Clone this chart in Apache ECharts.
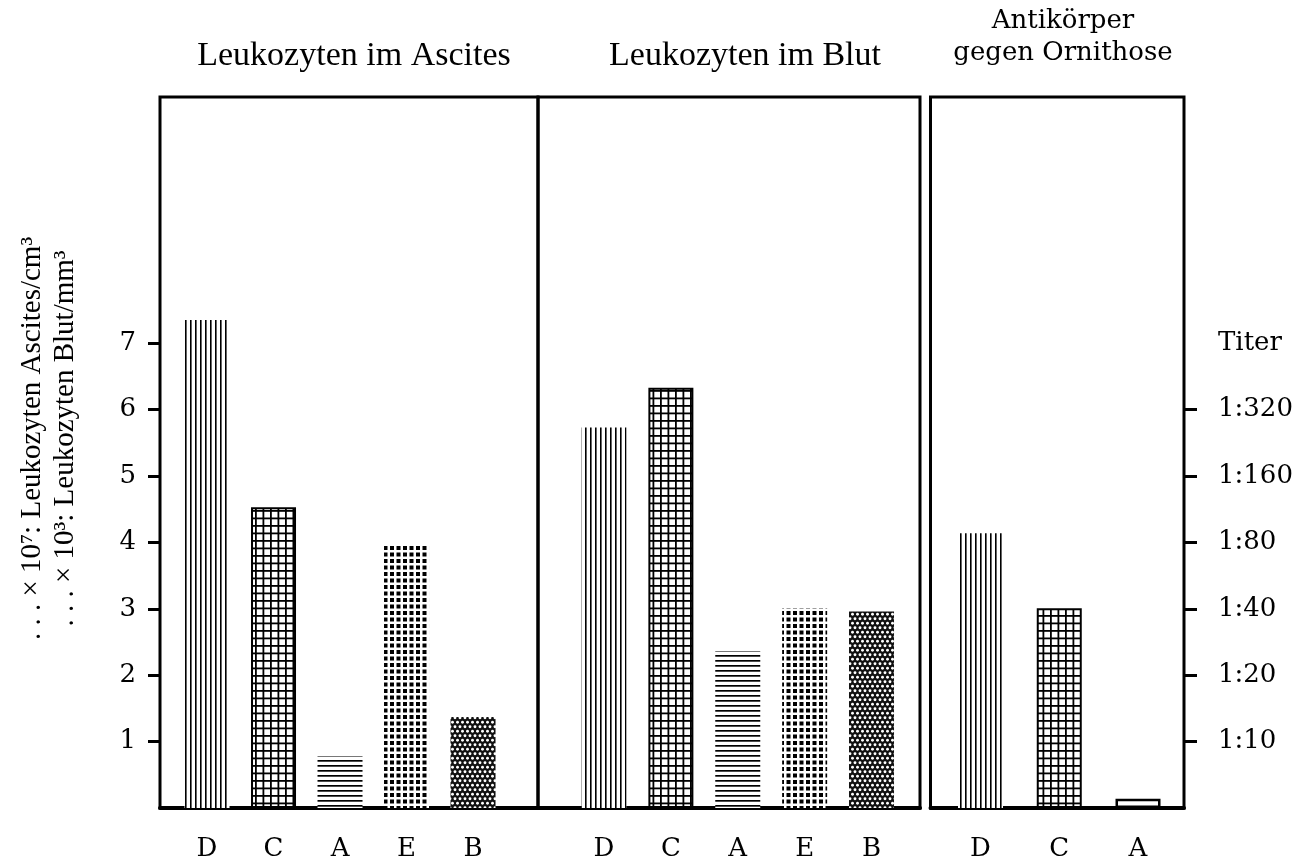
<!DOCTYPE html>
<html>
<head>
<meta charset="utf-8">
<script src="https://cdn.jsdelivr.net/npm/echarts@6/dist/echarts.min.js"></script>
<style>
html,body{margin:0;padding:0;background:#fff;}
#chart{width:1306px;height:868px;}
</style>
</head>
<body>
<div id="chart"></div>
<script>
// ---- data ----
const categoriesMain = ['D', 'C', 'A', 'E', 'B'];
const categoriesTiter = ['D', 'C', 'A'];
const ascitesValues = [7.35, 4.53, 0.78, 3.97, 1.37];
const blutValues = [5.73, 6.33, 2.36, 3.01, 2.96];
const titerBarValues = [4.14, 3.01, 0.14];
const leftTickLabels = ['1', '2', '3', '4', '5', '6', '7'];
const titerTickLabels = ['1:10', '1:20', '1:40', '1:80', '1:160', '1:320'];
const titerHeader = 'Titer';
const panelTitles = ['Leukozyten im Ascites', 'Leukozyten im Blut', 'Antikörper\ngegen Ornithose'];
const yAxisName = '. . . × 10⁷: Leukozyten Ascites/cm³\n. . . × 10³: Leukozyten Blut/mm³';

// ---- patterns ----
function canvasPattern(w, h, bg, draw) {
  const c = document.createElement('canvas');
  c.width = w; c.height = h;
  const ctx = c.getContext('2d');
  ctx.fillStyle = bg; ctx.fillRect(0, 0, w, h);
  ctx.fillStyle = '#000';
  draw(ctx);
  return { image: c, repeat: 'repeat' };
}
const patterns = {
  D: canvasPattern(5, 5, '#fff', ctx => { ctx.fillRect(0, 0, 1.6, 5); }),
  A: canvasPattern(5, 5, '#fff', ctx => { ctx.fillRect(0, 0, 5, 1.7); }),
  C: canvasPattern(15, 15, '#fff', ctx => {
    ctx.fillRect(0, 0, 15, 1.8); ctx.fillRect(0, 7.5, 15, 1.8);
    ctx.fillRect(0, 0, 1.8, 15); ctx.fillRect(7.5, 0, 1.8, 15);
  }),
  E: canvasPattern(13, 13, '#fff', ctx => {
    ctx.fillRect(0, 0, 4, 4); ctx.fillRect(6.5, 0, 4, 4);
    ctx.fillRect(0, 6.5, 4, 4); ctx.fillRect(6.5, 6.5, 4, 4);
  }),
  B: canvasPattern(10, 9, '#111', ctx => {
    ctx.fillStyle = '#fff';
    [[2.5, 2.25], [7.5, 2.25], [0, 6.75], [5, 6.75], [10, 6.75]].forEach(p => {
      ctx.beginPath(); ctx.arc(p[0], p[1], 1.45, 0, Math.PI * 2); ctx.fill();
    });
  })
};
function styleFor(cat, panel) {
  if (panel === 2 && cat === 'A') return { color: '#fff', borderColor: '#000', borderWidth: 2.5 };
  const s = { color: patterns[cat] };
  if (cat === 'C') { s.borderColor = '#000'; s.borderWidth = 2; }
  return s;
}

const serif = 'DejaVu Serif';
const tSerif = 'Liberation Serif';
const yMax = 10.71;
const plotTop = 97, plotBottom = 808, plotH = plotBottom - plotTop;
const unitPx = plotH / yMax;
const rightEdge = 1184;

const frameStyle = { show: true, borderColor: '#000', borderWidth: 3, backgroundColor: 'transparent' };
const grids = [
  Object.assign({ left: 160, top: plotTop, width: 378, height: plotH }, frameStyle),
  Object.assign({ left: 538, top: plotTop, width: 382, height: plotH }, frameStyle),
  Object.assign({ left: 930.5, top: plotTop, width: rightEdge - 930.5, height: plotH }, frameStyle),
  // tick/label overlays (value 1 .. 7 on the left, 1 .. 6 on the right)
  { show: false, left: 160, width: 378, top: plotBottom - leftTickLabels.length * unitPx, height: (leftTickLabels.length - 1) * unitPx },
  { show: false, left: rightEdge, width: 100, top: plotBottom - titerTickLabels.length * unitPx, height: (titerTickLabels.length - 1) * unitPx }
];

const xRanges = [[-0.707, 4.977], [-0.987, 4.725], [-0.635, 2.584]];
const panelCats = [categoriesMain, categoriesMain, categoriesTiter];
const panelVals = [ascitesValues, blutValues, titerBarValues];

const xAxes = panelCats.map((cats, k) => ({
  type: 'value', gridIndex: k, min: xRanges[k][0], max: xRanges[k][1],
  splitLine: { show: false },
  axisTick: { show: false },
  axisLine: { show: true, lineStyle: { color: '#000', width: 4 } },
  axisLabel: {
    customValues: cats.map((c, i) => i),
    formatter: v => cats[Math.round(v)],
    margin: 28, fontFamily: serif, fontSize: 26, color: '#000'
  }
})).concat([
  { type: 'value', gridIndex: 3, show: false, min: 0, max: 1 },
  { type: 'value', gridIndex: 4, show: false, min: 0, max: 1 }
]);

const yAxes = [
  {
    type: 'value', gridIndex: 0, min: 0, max: yMax,
    splitLine: { show: false }, axisLine: { show: false },
    axisTick: { show: false }, axisLabel: { show: false },
    name: yAxisName, nameLocation: 'middle', nameGap: 78, nameRotate: 90,
    nameTextStyle: { fontFamily: tSerif, fontSize: 29, lineHeight: 33, color: '#000', padding: [0, 0, 0, 28] }
  },
  { type: 'value', gridIndex: 1, min: 0, max: yMax, show: false },
  { type: 'value', gridIndex: 2, min: 0, max: yMax, show: false },
  {
    type: 'category', gridIndex: 3, data: leftTickLabels, boundaryGap: false,
    splitLine: { show: false }, axisLine: { show: false },
    axisTick: { show: true, length: 12, lineStyle: { color: '#000', width: 3 } },
    axisLabel: { margin: 24, fontFamily: serif, fontSize: 26, color: '#000' }
  },
  {
    type: 'category', gridIndex: 4, data: titerTickLabels, boundaryGap: false, position: 'left',
    splitLine: { show: false }, axisLine: { show: false },
    axisTick: { show: true, inside: true, length: 13, lineStyle: { color: '#000', width: 3 } },
    axisLabel: { inside: true, margin: 34, fontFamily: serif, fontSize: 26, color: '#000' },
    name: titerHeader, nameLocation: 'end', nameGap: 53,
    nameTextStyle: { fontFamily: serif, fontSize: 26, color: '#000', align: 'left', padding: [0, 0, 0, 34] }
  }
];

const series = panelVals.map((vals, k) => ({
  type: 'bar', xAxisIndex: k, yAxisIndex: k, barWidth: 45,
  data: vals.map((v, i) => ({ value: [i, v], itemStyle: styleFor(panelCats[k][i], k) }))
}));

const titles = [
  { text: panelTitles[0], left: 349, top: 34, textAlign: 'center', textStyle: { fontFamily: tSerif, fontSize: 34, fontWeight: 'normal', color: '#000' } },
  { text: panelTitles[1], left: 740, top: 34, textAlign: 'center', textStyle: { fontFamily: tSerif, fontSize: 34, fontWeight: 'normal', color: '#000' } },
  { text: panelTitles[2], left: 1058, top: 0, textAlign: 'center', textStyle: { fontFamily: serif, fontSize: 26, lineHeight: 32, fontWeight: 'normal', color: '#000' } }
];

const chart = echarts.init(document.getElementById('chart'), null, { renderer: 'canvas' });
chart.setOption({
  animation: false,
  backgroundColor: '#fff',
  title: titles,
  grid: grids,
  xAxis: xAxes,
  yAxis: yAxes,
  series: series
});
</script>
</body>
</html>
